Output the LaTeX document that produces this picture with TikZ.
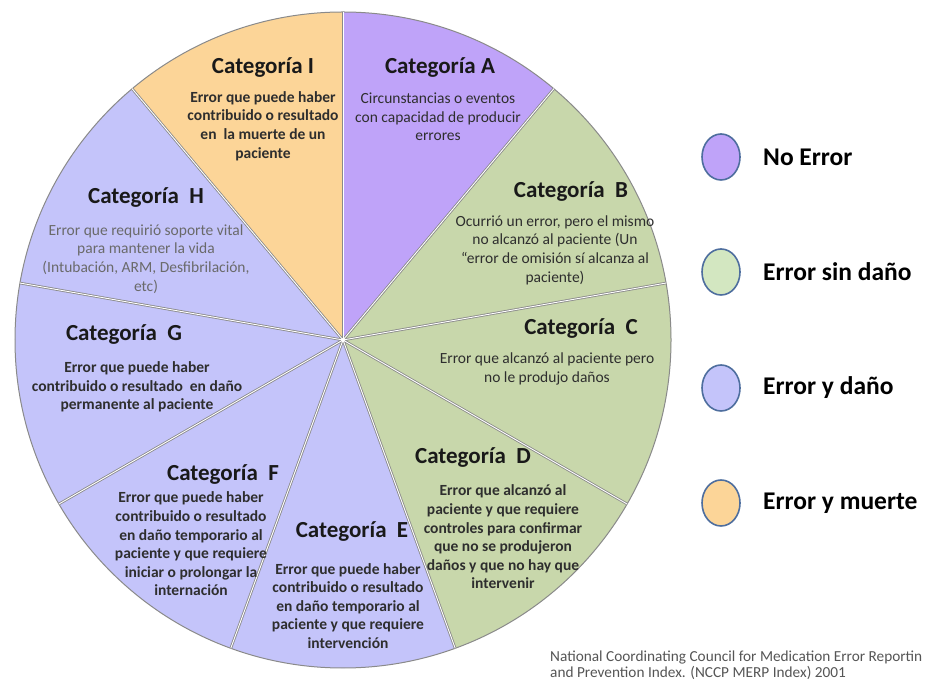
\documentclass[tikz,border=0pt]{standalone}
\usepackage{fontspec}
\setmainfont{Carlito}
\usetikzlibrary{shapes.geometric}
\definecolor{cA}{HTML}{BFA3F9}
\definecolor{cG}{HTML}{C8D7AB}
\definecolor{cB}{HTML}{C4C4FA}
\definecolor{cO}{HTML}{FCD598}
\definecolor{lG}{HTML}{D3E7C1}
\definecolor{edge}{HTML}{8A8A8A}
\definecolor{lborder}{HTML}{4E6E9E}
\definecolor{bodytxt}{HTML}{2E2E2E}
\definecolor{htxt}{HTML}{6A6A6A}
\definecolor{foot}{HTML}{555555}
\begin{document}
\begin{tikzpicture}[x=1pt,y=1pt,
  ttl/.style={font=\fontsize{23}{27}\selectfont\bfseries, text=black!90, inner sep=0pt},
  bd/.style={font=\fontsize{15.5}{18.6}\selectfont, text=bodytxt, align=center, inner sep=0pt},
  bdb/.style={font=\fontsize{15.5}{18.6}\selectfont\bfseries, text=bodytxt, align=center, inner sep=0pt},
  sep/.style={draw=edge, line width=2.6pt},
  sepin/.style={draw=white, line width=0.9pt},
  leg/.style={draw=lborder, line width=1.6pt, ellipse, minimum width=38pt, minimum height=46pt, inner sep=0pt},
  legt/.style={font=\fontsize{25.5}{30}\selectfont\bfseries, anchor=west, inner sep=0pt}]
\useasboundingbox (0,0) rectangle (928,682);
\coordinate (c) at (343,342);
\def\R{328}
% slices
\begin{scope}[shift={(343,342)}]
\fill[cA] (0,0) -- (50:\R) arc[start angle=50, end angle=90, radius=\R] -- cycle;
\fill[cG] (0,0) -- (-70:\R) arc[start angle=-70, end angle=50, radius=\R] -- cycle;
\fill[cB] (0,0) -- (130:\R) arc[start angle=130, end angle=290, radius=\R] -- cycle;
\fill[cO] (0,0) -- (90:\R) arc[start angle=90, end angle=130, radius=\R] -- cycle;
\draw[edge, line width=1pt] (0,0) circle[radius=\R];
\foreach \a in {90,50,10,-30,-70,-110,-150,170,130}{
  \coordinate (e\a) at (\a:\R);
}
\end{scope}
\foreach \a in {90,50,10,-30,-70,-110,-150,170,130}{
  \draw[sep] (c) -- (e\a);
}
\foreach \a in {90,50,10,-30,-70,-110,-150,170,130}{
  \draw[sepin] (c) -- (e\a);
}
\fill[white] (c) circle[radius=2];
% category texts
\node[ttl] (tI) at (263,614) {Categoría I};
\node[bdb] (bI) at (263,556) {Error que puede haber\\contribuido o resultado\\en\ \ la muerte de un\\paciente};
\node[ttl] (tA) at (440,614) {Categoría A};
\node[bd] (bA) at (438,565) {Circunstancias o eventos\\con capacidad de producir\\errores};
\node[ttl] (tB) at (571,490) {Categoría\ \ B};
\node[bd] (bB) at (555,432) {Ocurrió un error, pero el mismo\\no alcanzó al paciente (Un\\“error de omisión sí alcanza al\\paciente)};
\node[ttl] (tC) at (581,353) {Categoría\ \ C};
\node[bd] (bC) at (547,313) {Error que alcanzó al paciente pero\\no le produjo daños};
\node[ttl] (tD) at (473,224) {Categoría\ \ D};
\node[bdb] (bD) at (503,145) {Error que alcanzó al\\paciente y que requiere\\controles para confirmar\\que no se produjeron\\daños y que no hay que\\intervenir};
\node[ttl] (tE) at (352,150) {Categoría\ \ E};
\node[bdb] (bE) at (348,76) {Error que puede haber\\contribuido o resultado\\en daño temporario al\\paciente y que requiere\\intervención};
\node[ttl] (tF) at (223,207) {Categoría\ \ F};
\node[bdb] (bF) at (191,138) {Error que puede haber\\contribuido o resultado\\en daño temporario al\\paciente y que requiere\\iniciar o prolongar\ la\\internación};
\node[ttl] (tG) at (124,347) {Categoría\ \ G};
\node[bdb] (bG) at (137,295) {Error que puede haber\\contribuido o resultado\ \ en daño\\permanente al paciente};
\node[ttl] (tH) at (146,484) {Categoría\ \ H};
\node[bd, text=htxt] (bH) at (146,423) {Error que requirió soporte vital\\para mantener la vida\\(Intubación, ARM, Desfibrilación,\\etc)};
% legend
\node[leg, fill=cA] (l1) at (721,525) {};
\node[legt] (t1) at (763,525) {No Error};
\node[leg, fill=lG] (l2) at (721,410) {};
\node[legt] (t2) at (763,410) {Error sin daño};
\node[leg, fill=cB] (l3) at (721,294) {};
\node[legt] (t3) at (763,294) {Error y daño};
\node[leg, fill=cO] (l4) at (721,179) {};
\node[legt] (t4) at (763,179) {Error y muerte};
% footnote
\node[font=\fontsize{15.3}{16}\selectfont, text=foot, align=left, anchor=south west, inner sep=0pt] (fn) at (550,2) {National Coordinating Council for Medication Error Reportin\\and Prevention Index. (NCCP MERP Index) 2001};
\end{tikzpicture}
\end{document}
